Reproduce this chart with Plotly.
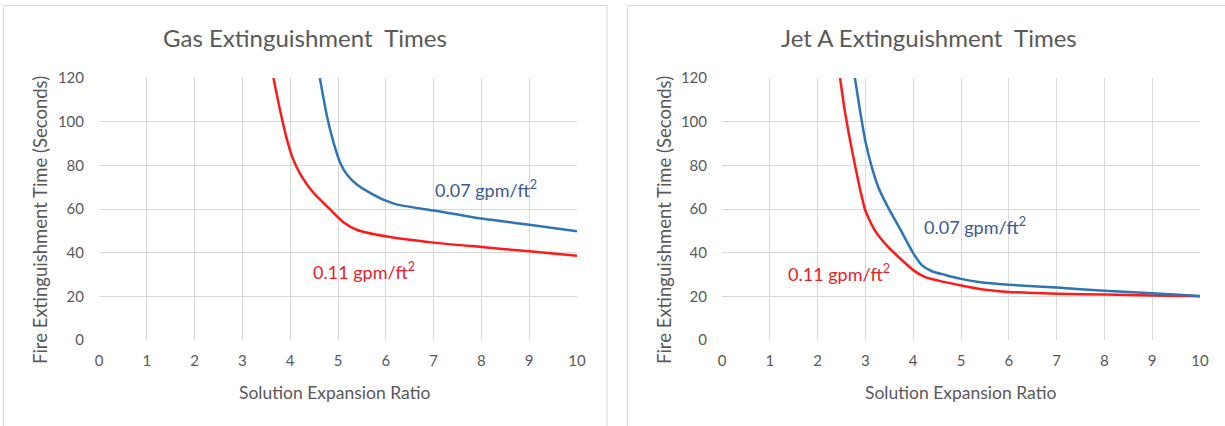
import plotly.graph_objects as go
from plotly.subplots import make_subplots

# Gas chart data
gas_x_011 = [3.65, 3.79, 3.93, 4.04, 4.21, 4.49, 4.84, 5.12, 5.40, 6.0, 7.0, 8.0, 9.0, 10.0]
gas_y_011 = [120, 105.0, 92.0, 84.0, 76.0, 67.3, 59.7, 53.8, 50.4, 47.5, 44.6, 42.6, 40.6, 38.6]
gas_x_007 = [4.62, 4.77, 4.91, 5.05, 5.19, 5.40, 5.68, 6.0, 6.24, 7.0, 8.0, 9.0, 10.0]
gas_y_007 = [120, 102.4, 90.2, 81.0, 75.7, 71.1, 67.3, 63.8, 62.0, 59.3, 55.6, 52.8, 49.8]

# Jet A chart data
jet_x_011 = [2.47, 2.57, 2.71, 2.85, 3.0, 3.2, 3.48, 3.76, 4.0, 4.25, 4.53, 5.0, 5.51, 6.0, 7.0, 8.0, 9.0, 10.0]
jet_y_011 = [120, 104.8, 88.0, 72.9, 59.2, 50.1, 42.5, 36.7, 32.0, 28.8, 27.2, 25.0, 23.0, 22.0, 21.2, 20.8, 20.4, 20.0]
jet_x_007 = [2.78, 2.89, 3.0, 3.13, 3.27, 3.48, 3.74, 4.0, 4.18, 4.39, 4.67, 5.0, 5.37, 6.0, 7.0, 8.0, 9.0, 10.0]
jet_y_007 = [120, 104.8, 91.0, 79.5, 70.0, 60.5, 50.3, 39.8, 34.3, 31.5, 29.8, 28.0, 26.6, 25.3, 24.0, 22.6, 21.4, 20.2]

titles = ["Gas Extinguishment\u00a0 Times", "Jet A Extinguishment\u00a0 Times"]
x_title = "Solution Expansion Ratio"
y_title = "Fire Extinguishment Time (Seconds)"
x_ticks = [0, 1, 2, 3, 4, 5, 6, 7, 8, 9, 10]
y_ticks = [0, 20, 40, 60, 80, 100, 120]
label_007 = "0.07 gpm/ft<sup>2</sup>"
label_011 = "0.11 gpm/ft<sup>2</sup>"
# label positions (data units)
gas_lab_007 = (8.1, 69)
gas_lab_011 = (5.55, 31.5)
jet_lab_007 = (5.3, 52)
jet_lab_011 = (2.45, 30.5)

BLUE = "#2e75b6"
RED = "#ff1a1a"
GRAY = "#595959"
GRID = "#d9d9d9"
FONT = "Lato, 'Open Sans', sans-serif"

fig = make_subplots(rows=1, cols=2)

LW = 2.5
SM = 0.55
fig.add_trace(go.Scatter(x=gas_x_011, y=gas_y_011, mode="lines", line=dict(color=RED, width=LW, shape="spline", smoothing=SM)), 1, 1)
fig.add_trace(go.Scatter(x=gas_x_007, y=gas_y_007, mode="lines", line=dict(color=BLUE, width=LW, shape="spline", smoothing=SM)), 1, 1)
fig.add_trace(go.Scatter(x=jet_x_011, y=jet_y_011, mode="lines", line=dict(color=RED, width=LW, shape="spline", smoothing=SM)), 1, 2)
fig.add_trace(go.Scatter(x=jet_x_007, y=jet_y_007, mode="lines", line=dict(color=BLUE, width=LW, shape="spline", smoothing=SM)), 1, 2)

W, H = 1225, 426
def px_x(p):
    return p / W
def px_y(p):
    return 1 - p / H

axis_common = dict(showgrid=True, gridcolor=GRID, gridwidth=1, zeroline=False,
                   showline=False, ticks="", automargin=False,
                   tickfont=dict(family=FONT, size=15, color=GRAY))

fig.update_xaxes(range=[0, 10], tickvals=x_ticks, ticklabelstandoff=10, **axis_common)
fig.update_yaxes(range=[0, 120], tickvals=y_ticks, ticklabelstandoff=14, **axis_common)

fig.update_layout(
    width=W, height=H, margin=dict(l=0, r=0, t=0, b=0, pad=0),
    paper_bgcolor="white", plot_bgcolor="white", showlegend=False,
    xaxis=dict(domain=[px_x(99), px_x(577)], anchor="y"),
    yaxis=dict(domain=[px_y(340), px_y(78)], anchor="x"),
    xaxis2=dict(domain=[px_x(722), px_x(1200)], anchor="y2"),
    yaxis2=dict(domain=[px_y(340), px_y(78)], anchor="x2"),
    font=dict(family=FONT, color=GRAY),
)

# chart area frames
fig.add_shape(type="rect", xref="paper", yref="paper", x0=px_x(3.5), x1=px_x(607), y0=-0.05, y1=px_y(5.5),
              line=dict(color="#d9d9d9", width=1), fillcolor="rgba(0,0,0,0)", layer="below")
fig.add_shape(type="rect", xref="paper", yref="paper", x0=px_x(627.5), x1=1.05, y0=-0.05, y1=px_y(5.5),
              line=dict(color="#d9d9d9", width=1), fillcolor="rgba(0,0,0,0)", layer="below")

anns = []
for cx, title in [(305, titles[0]), (929, titles[1])]:
    anns.append(dict(text=title, xref="paper", yref="paper", x=px_x(cx), y=px_y(38), xanchor="center", yanchor="middle",
                     showarrow=False, font=dict(family=FONT, size=24, color=GRAY)))
for cx in [334, 960]:
    anns.append(dict(text=x_title, xref="paper", yref="paper", x=px_x(cx), y=px_y(392), xanchor="center", yanchor="middle",
                     showarrow=False, font=dict(family=FONT, size=17.5, color=GRAY)))
for yx in [40, 664]:
    anns.append(dict(text=y_title, xref="paper", yref="paper", x=px_x(yx), y=px_y(220), xanchor="center", yanchor="middle",
                     textangle=-90, showarrow=False, font=dict(family=FONT, size=18.5, color=GRAY)))

for (xr, yr), pos, txt, col in [
    (("x", "y"), gas_lab_007, label_007, "#3c5a96"),
    (("x", "y"), gas_lab_011, label_011, "#e8202a"),
    (("x2", "y2"), jet_lab_007, label_007, "#3c5a96"),
    (("x2", "y2"), jet_lab_011, label_011, "#e8202a"),
]:
    anns.append(dict(text=txt, xref=xr, yref=yr, x=pos[0], y=pos[1], xanchor="center", yanchor="middle",
                     showarrow=False, font=dict(family=FONT, size=18, color=col)))

fig.update_layout(annotations=anns)

fig.write_html("out.html")
